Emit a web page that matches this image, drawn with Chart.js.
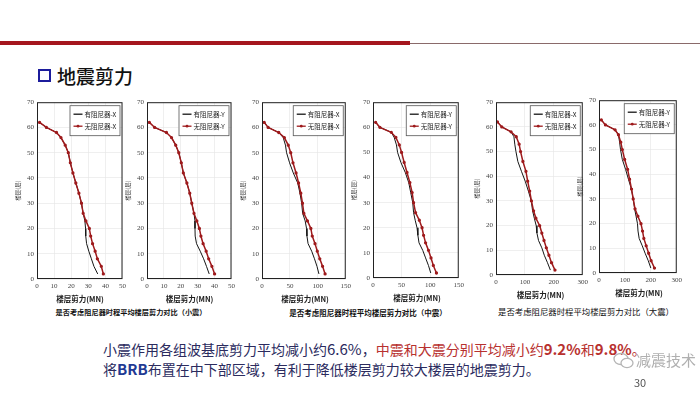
<!DOCTYPE html>
<html>
<head>
<meta charset="utf-8">
<script src="https://cdn.jsdelivr.net/npm/chart.js@4.4.0/dist/chart.umd.min.js"></script>
<style>
  body { margin:0; width:700px; height:394px; background:#fff; position:relative; overflow:hidden;
         font-family:"Noto Sans CJK SC","Noto Sans",sans-serif; }
  .abs { position:absolute; white-space:nowrap; }
  canvas { position:absolute; }
  .cap { position:absolute; white-space:nowrap; color:#111; text-align:center; transform:translateX(-50%); }
  .xt { position:absolute; white-space:nowrap; font-size:7.5px; font-weight:bold; color:#222; transform:translateX(-50%); }
</style>
</head>
<body>
<div class="abs" style="left:0;top:41px;width:410px;height:4px;background:#A5161E"></div>
<div class="abs" style="left:410px;top:43px;width:290px;height:1px;background:#8a6a6a"></div>
<div class="abs" style="left:38px;top:69px;width:9px;height:9px;border:2.5px solid #1C1C9C"></div>
<div class="abs" style="left:57px;top:63px;font-size:19px;line-height:26px;color:#111;font-weight:500">地震剪力</div>

<div id="charts"></div>

<div class="cap" style="left:131px;top:307px;font-size:7.2px;font-weight:bold">是否考虑阻尼器时程平均楼层剪力对比（小震）</div>
<div class="cap" style="left:368px;top:307px;font-size:7.5px;font-weight:bold">是否考虑阻尼器时程平均楼层剪力对比（中震）</div>
<div class="cap" style="left:586px;top:305px;font-size:8.4px">是否考虑阻尼器时程平均楼层剪力对比（大震）</div>

<div class="abs" style="left:103px;top:339px;font-size:14px;line-height:20px;color:#2B2B5E">
  小震作用各组波基底剪力平均减小约<span style="font-size:15px">6.6%</span>，<span style="color:#B8312F">中震和大震分别平均减小约<b style="font-size:15px">9.2%</b>和<b style="font-size:15px">9.8%</b>。</span><br>
  将<b style="color:#1F3A93;font-size:15px">BRB</b>布置在中下部区域，有利于降低楼层剪力较大楼层的地震剪力。
</div>
<svg class="abs" style="left:613px;top:352px" width="22" height="18" viewBox="0 0 22 18">
  <ellipse cx="8" cy="7" rx="7" ry="5.5" fill="none" stroke="#b5b5b5" stroke-width="1.3"/>
  <ellipse cx="14" cy="11" rx="6" ry="4.6" fill="#fff" stroke="#b5b5b5" stroke-width="1.3"/>
</svg>
<div class="abs" style="left:636px;top:349px;font-size:15px;line-height:22px;color:#b0b0b0">减震技术</div>
<div class="abs" style="left:634px;top:375px;font-size:11px;line-height:14px;color:#555">30</div>

<script>
// floors sampled along the height (same for every curve)
const floors = [62, 60, 58, 56, 53, 50, 46, 42, 38, 34, 30, 26, 23, 20, 17, 14, 11, 8, 5, 2];

// storey shear (MN), with / without dampers
const smallXWith    = [1.5, 5.5, 11.4, 14, 16.5, 18.3, 19.5, 21, 22.7, 24.5, 26, 27, 28.0, 28.4, 28.5, 29, 30.3, 31.8, 33.3, 35.5];
const smallXWithout = [1.5, 5.5, 11.4, 14, 16.5, 18.3, 19.5, 21, 22.7, 24.5, 26, 27, 28.6, 30.6, 31.4, 32.5, 34, 35.3, 37.6, 38.8];
const smallYWith    = [1.4, 4.5, 11.5, 14.5, 17, 18.8, 20.3, 21.5, 23.6, 25.3, 26.5, 27.8, 28.4, 28.4, 28.5, 29.3, 31.5, 33.5, 35.2, 36.8];
const smallYWithout = [1.4, 4.5, 11.5, 14.5, 17, 18.8, 20.3, 21.5, 23.6, 25.3, 26.5, 27.8, 29.5, 31, 31.9, 33.2, 35, 36.5, 38.4, 40];
const midXWith      = [4, 11, 30, 38, 42, 44, 49.4, 56, 64, 68, 71, 72.8, 77.3, 79.8, 80.5, 82.5, 89, 94, 98.5, 102];
const midXWithout   = [4, 11, 30, 40, 47, 51.5, 55.5, 61, 65.5, 69.5, 72.5, 75, 81.4, 87.5, 90, 95, 99, 103.5, 108.5, 113];
const midYWith      = [4.6, 12, 32, 37, 41, 43, 48.8, 56.5, 62.5, 66, 69.5, 71, 73.8, 77, 78.5, 80.5, 87, 92, 97, 101];
const midYWithout   = [4.6, 12, 32, 40, 46, 50, 54.5, 59.5, 64.5, 68.5, 71, 74.5, 81, 85.8, 88.5, 92, 97, 101.5, 105.5, 111];
const bigXWith      = [5, 20, 52, 62, 65, 69, 75.5, 88, 101, 112, 122, 126.5, 132.5, 139, 141.5, 147, 158.5, 167, 178, 188];
const bigXWithout   = [5, 20, 52, 70, 80, 85, 93, 103.6, 109.5, 116.5, 122.5, 130, 138, 151, 158.5, 166, 174, 183, 192, 204];
const bigYWith      = [9, 25, 62, 75, 79.5, 83, 90, 102.5, 113.5, 125, 132, 137.5, 143, 148.5, 150.5, 155, 167, 178, 190, 200];
const bigYWithout   = [9, 25, 62, 75, 84, 90, 99, 110.5, 118, 125.5, 132, 139, 150, 162, 168, 173, 182, 191.5, 201, 214];

const yTicks = [0, 10, 20, 30, 40, 50, 60, 70];

// frame + legend box inside plot
const frameLegend = {
  id: 'frameLegend',
  afterDraw(chart) {
    const { ctx, chartArea: a } = chart;
    ctx.save();
    ctx.strokeStyle = '#222';
    ctx.lineWidth = 1;
    ctx.strokeRect(a.left + 0.5, a.top + 0.5, a.width - 1, a.height - 1);
    const w = 50, h = 30;
    const x = a.right - w - 3, y = a.top + 3;
    ctx.fillStyle = '#fff';
    ctx.fillRect(x, y, w, h);
    ctx.lineWidth = 0.8;
    ctx.strokeStyle = '#555';
    ctx.strokeRect(x + 0.5, y + 0.5, w, h);
    ctx.font = '6.5px "Noto Sans CJK SC"';
    ctx.textBaseline = 'middle';
    const ds = chart.data.datasets;
    [ds[1], ds[0]].forEach((d, i) => {
      const ly = y + 9 + i * 12;
      ctx.strokeStyle = d.borderColor;
      ctx.lineWidth = 1.3;
      ctx.beginPath(); ctx.moveTo(x + 4, ly); ctx.lineTo(x + 13, ly); ctx.stroke();
      if (d.pointRadius) {
        ctx.fillStyle = d.borderColor;
        ctx.beginPath(); ctx.arc(x + 8.5, ly, 1.4, 0, Math.PI * 2); ctx.fill();
      }
      ctx.fillStyle = '#222';
      ctx.fillText(d.label, x + 15, ly);
    });
    ctx.restore();
  }
};

function pts(vals) { return floors.map((f, i) => ({ x: vals[i], y: f })); }

function makeChart(rect, withVals, withoutVals, xMax, xStep, dir) {
  const [L, T, R, B] = rect;
  const padL = 22, padT = 5, padR = 6, padB = 24;
  const cv = document.createElement('canvas');
  cv.width = R - L + padL + padR;
  cv.height = B - T + padT + padB;
  cv.style.left = (L - padL) + 'px';
  cv.style.top = (T - padT) + 'px';
  document.getElementById('charts').appendChild(cv);

  const xt = document.createElement('div');
  xt.className = 'xt';
  xt.textContent = '楼层剪力(MN)';
  xt.style.left = ((L + R) / 2) + 'px';
  xt.style.top = (B + 14) + 'px';
  document.body.appendChild(xt);

  const tickFont = { family: '"Liberation Serif"', size: 7 };
  new Chart(cv, {
    type: 'scatter',
    data: {
      datasets: [
        { label: '无阻尼器-' + dir, data: pts(withoutVals), showLine: true, borderColor: '#9E1A1C',
          backgroundColor: '#9E1A1C', borderWidth: 1.5, pointRadius: 0.9, pointHoverRadius: 0 },
        { label: '有阻尼器-' + dir, data: pts(withVals), showLine: true, borderColor: '#151515',
          backgroundColor: '#151515', borderWidth: 1, pointRadius: 0 }
      ]
    },
    options: {
      responsive: false,
      animation: false,
      devicePixelRatio: 1,
      layout: { padding: { top: padT, right: padR, left: 0, bottom: 0 } },
      plugins: { legend: { display: false }, tooltip: { enabled: false } },
      scales: {
        x: {
          type: 'linear', min: 0, max: xMax,
          ticks: { stepSize: xStep, font: tickFont, color: '#444', padding: 3, maxRotation: 0 },
          grid: { color: '#e4e4e4', lineWidth: 0.6, drawTicks: false },
          border: { display: false },
          afterFit(s) { s.height = padB; }
        },
        y: {
          type: 'linear', min: 0, max: 70,
          afterBuildTicks(s) { s.ticks = yTicks.map(v => ({ value: v })); },
          ticks: { font: tickFont, color: '#444', padding: 3 },
          grid: { color: '#e4e4e4', lineWidth: 0.6, drawTicks: false },
          border: { display: false },
          title: { display: true, text: '楼层(层)', font: { family: '"Noto Sans CJK SC"', size: 5.5 }, color: '#333', padding: 0 },
          afterFit(s) { s.width = padL; }
        }
      }
    },
    plugins: [frameLegend]
  });
}

makeChart([37, 100, 123, 279], smallXWith, smallXWithout, 50, 10, 'X');
makeChart([147, 100, 232, 279], smallYWith, smallYWithout, 50, 10, 'Y');
makeChart([262, 100, 348, 279], midXWith, midXWithout, 150, 50, 'X');
makeChart([373, 100, 461, 278], midYWith, midYWithout, 150, 50, 'Y');
makeChart([496, 100, 585, 275], bigXWith, bigXWithout, 300, 100, 'X');
makeChart([599, 98, 679, 273], bigYWith, bigYWithout, 300, 100, 'Y');
</script>
</body>
</html>
